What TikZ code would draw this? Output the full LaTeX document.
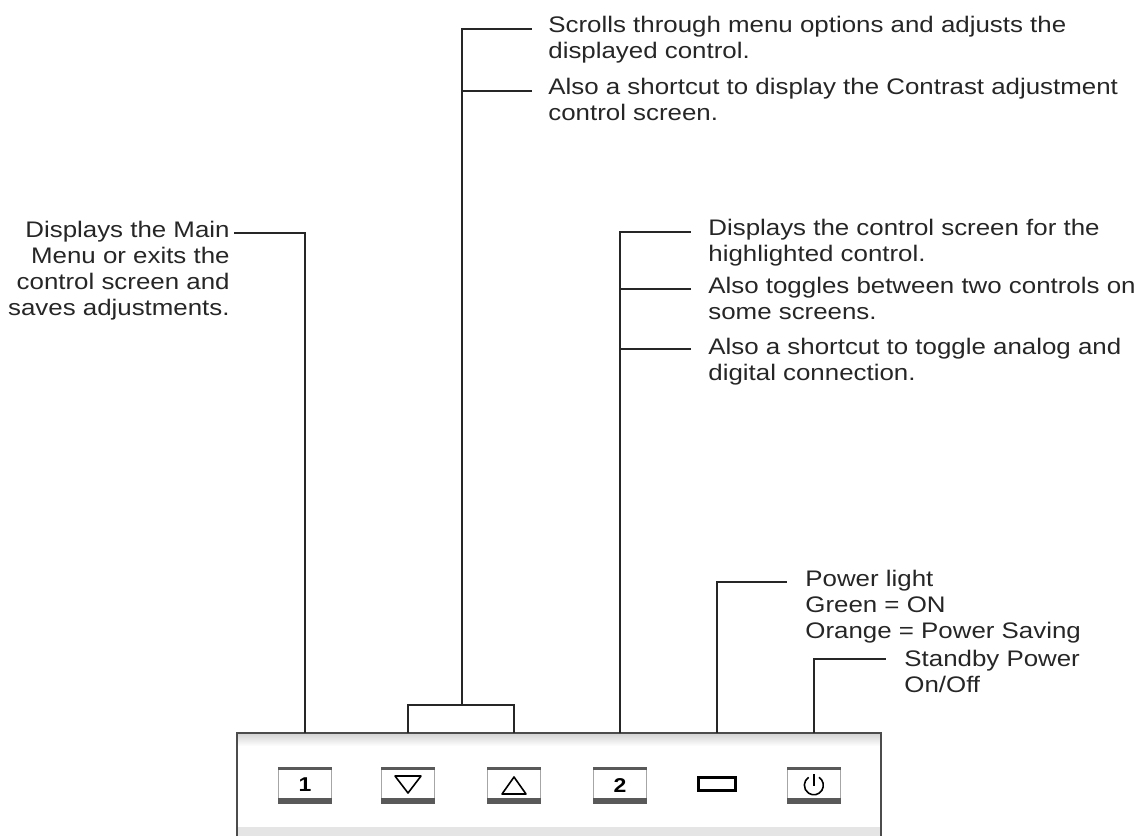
\documentclass[tikz,border=0pt]{standalone}
\usepackage{fontspec}
\setmainfont{Liberation Sans}[FakeStretch=1.15]
\usetikzlibrary{calc}

\tikzset{%
  leader/.style={line width=0.9pt, black!85},
  note/.style={font=\fontsize{11.25}{13}\selectfont, inner sep=0pt, text=black!85},
  key/.style={draw=black!35, line width=0.5pt, fill=white, minimum width=26.5pt,
    minimum height=18pt, inner sep=0pt, font=\bfseries\fontsize{10}{12}\selectfont}
}

\begin{document}
\begin{tikzpicture}[x=0.5pt, y=-0.5pt]
  \useasboundingbox (0,0) rectangle (1143,836);

  % the panel
  \fill[black!10] (237,827) rectangle (881,836);
  \shade[top color=black!18, bottom color=white] (237,733) rectangle (881,746);
  \draw[black!70, line width=1.3pt] (237,836) -- (237,733) -- (881,733) -- (881,836);
  \coordinate (rim) at (0,733);

  % keys
  \node[key] (one) at (305,785) {1};
  \node[key] (down) at (408,785) {};
  \node[key] (up) at (514,785) {};
  \node[key] (two) at (620,785) {2};
  \node[key] (pwr) at (814,785) {};
  \foreach \k in {one,down,up,two,pwr} {
    \fill[black!65] (\k.north west) rectangle ([yshift=-1.5pt]\k.north east);
    \fill[black!65] (\k.south west) rectangle ([yshift=2.6pt]\k.south east);
  }
  \draw[line width=0.8pt, line join=round] ($(down)+(-13,-9)$) -- ($(down)+(13,-9)$) -- ($(down)+(0,8)$) -- cycle;
  \draw[line width=0.8pt, line join=round] ($(up)+(-12,9)$) -- ($(up)+(12,9)$) -- ($(up)+(0,-8)$) -- cycle;
  \draw[line width=0.8pt] ($(pwr)+(5,-7.7)$) arc[start angle=-57, end angle=237, radius=9.5];
  \draw[line width=0.8pt] ($(pwr)+(0,-11)$) -- ($(pwr)+(0,1)$);
  \node[draw, line width=1.1pt, minimum width=18.5pt, minimum height=6.5pt, inner sep=0pt] (led) at (717,784) {};

  % notes
  \node[note, align=right, anchor=north east] (menu) at (230,221)
    {Displays the Main\\Menu or exits the\\control screen and\\saves adjustments.};
  \node[note, align=left, anchor=north west] (scroll) at (548,16)
    {Scrolls through menu options and adjusts the\\displayed control.};
  \node[note, align=left, anchor=north west] (contr) at (548,78)
    {Also a shortcut to display the Contrast adjustment\\control screen.};
  \node[note, align=left, anchor=north west] (ctrl) at (708,219)
    {Displays the control screen for the\\highlighted control.};
  \node[note, align=left, anchor=north west] (togg) at (708,277)
    {Also toggles between two controls on\\some screens.};
  \node[note, align=left, anchor=north west] (analog) at (708,338)
    {Also a shortcut to toggle analog and\\digital connection.};
  \node[note, align=left, anchor=north west] (light) at (805,570)
    {Power light\\Green = ON\\Orange = Power Saving};
  \node[note, align=left, anchor=north west] (stby) at (904,650)
    {Standby Power\\On/Off};

  % leaders
  \coordinate (brk) at (462,705);
  \draw[leader] (one |- rim) |- ($(menu.north east)+(4,12)$);
  \draw[leader] (down |- rim) -- (down |- brk) -- (up |- brk) -- (up |- rim);
  \draw[leader] (brk) |- ($(scroll.north west)+(-16,13)$);
  \draw[leader] ($(contr.north west)+(-16,13)$) -| (brk);
  \draw[leader] (two |- rim) |- ($(ctrl.north west)+(-17,13)$);
  \draw[leader] ($(togg.north west)+(-17,12)$) -| (two |- rim);
  \draw[leader] ($(analog.north west)+(-17,11)$) -| (two |- rim);
  \draw[leader] (led |- rim) |- ($(light.north west)+(-18,12)$);
  \draw[leader] (pwr |- rim) |- ($(stby.north west)+(-18,9)$);
\end{tikzpicture}
\end{document}
